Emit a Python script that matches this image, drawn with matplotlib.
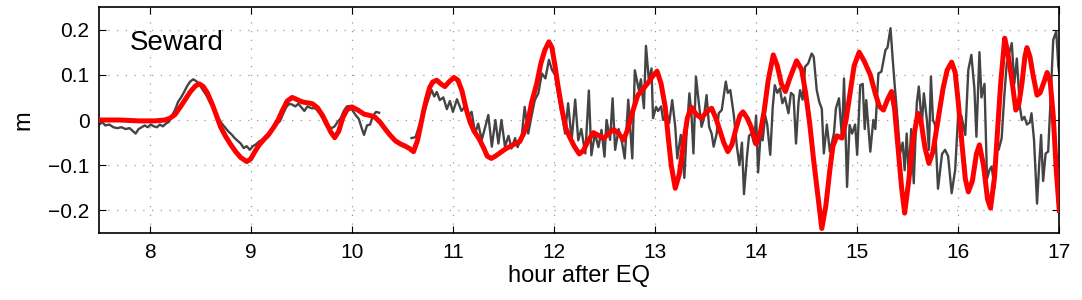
import numpy as np
import matplotlib
matplotlib.use("Agg")
import matplotlib.pyplot as plt

plt.rcParams['font.family'] = ['Liberation Sans', 'DejaVu Sans']

# Observed tide-gauge record (gray); NaN marks the data gap
obs_t = [7.50, 7.53, 7.56, 7.60, 7.64, 7.68, 7.72, 7.76, 7.80, 7.84, 7.86, 7.89, 7.92, 7.95, 7.98,
         8.01, 8.04, 8.07, 8.10, 8.13, 8.16, 8.19, 8.22, 8.25, 8.28, 8.31, 8.34, 8.37, 8.40, 8.43,
         8.46, 8.49, 8.52, 8.56, 8.60, 8.64, 8.68, 8.71, 8.75, 8.78, 8.81, 8.84, 8.87, 8.90, 8.93,
         8.96, 8.99, 9.02, 9.05, 9.08, 9.11, 9.14, 9.17, 9.20, 9.23, 9.26, 9.29, 9.32, 9.35, 9.38,
         9.41, 9.44, 9.47, 9.50, 9.53, 9.56, 9.60, 9.64, 9.68, 9.71, 9.74, 9.77, 9.80, 9.83, 9.86,
         9.89, 9.92, 9.95, 9.98, 10.01, 10.04, 10.07, 10.10, 10.12, 10.15, 10.18, 10.21, 10.24, 10.27,
         10.43,
         10.59, 10.63, 10.67, 10.71, 10.74, 10.77, 10.79, 10.815, 10.84, 10.87, 10.905, 10.94, 10.97,
         11.00, 11.04, 11.085, 11.12, 11.15, 11.185, 11.22, 11.25, 11.285, 11.32, 11.35, 11.385, 11.42,
         11.45, 11.48, 11.515, 11.55, 11.58, 11.615, 11.64, 11.68, 11.71, 11.745, 11.78, 11.81, 11.845,
         11.88, 11.915, 11.95, 11.98, 12.01, 12.04, 12.08, 12.11, 12.14, 12.175, 12.21, 12.24, 12.27,
         12.31, 12.345, 12.37, 12.405, 12.44, 12.47, 12.50, 12.52, 12.555, 12.58, 12.605, 12.64, 12.675,
         12.70, 12.735, 12.775, 12.80, 12.84, 12.86, 12.89, 12.91, 12.94, 12.965, 12.98, 13.01, 13.03,
         13.06, 13.08, 13.115, 13.14, 13.17, 13.20, 13.22, 13.255, 13.29, 13.31, 13.34, 13.36, 13.38,
         13.405, 13.43, 13.46, 13.48, 13.51, 13.535, 13.56, 13.58, 13.61, 13.63, 13.66, 13.70, 13.72,
         13.745, 13.78, 13.81, 13.835, 13.86, 13.88, 13.91, 13.93, 13.955, 13.98, 14.00, 14.02, 14.045,
         14.065, 14.09, 14.11, 14.14, 14.165, 14.185, 14.21, 14.235, 14.26, 14.285, 14.32, 14.345, 14.37,
         14.395, 14.42, 14.435, 14.46, 14.485, 14.515, 14.55, 14.57, 14.60, 14.625, 14.65, 14.67, 14.70,
         14.73, 14.77, 14.79, 14.82, 14.85, 14.87, 14.90, 14.925, 14.95, 14.98, 15.00, 15.03, 15.055,
         15.075, 15.09, 15.13, 15.16, 15.18, 15.21, 15.24, 15.28, 15.30, 15.33, 15.35, 15.37, 15.40,
         15.425, 15.45, 15.47, 15.49, 15.51, 15.535, 15.56, 15.59, 15.61, 15.64, 15.66, 15.69, 15.71,
         15.73, 15.75, 15.77, 15.80, 15.84, 15.87, 15.90, 15.935, 15.97, 16.00, 16.03, 16.07, 16.10,
         16.13, 16.16, 16.18, 16.21, 16.23, 16.26, 16.285, 16.31, 16.33, 16.36, 16.38, 16.40, 16.43,
         16.455, 16.48, 16.50, 16.53, 16.555, 16.58, 16.61, 16.63, 16.655, 16.68, 16.71, 16.725, 16.75,
         16.78, 16.80, 16.82, 16.84, 16.865, 16.89, 16.915, 16.94, 16.97, 16.99, 17.00]
obs_v = [-0.010, -0.005, -0.012, -0.010, -0.016, -0.018, -0.016, -0.020, -0.018, -0.026, -0.030, -0.020,
         -0.016, -0.012, -0.016, -0.010, -0.014, -0.016, -0.010, -0.014, -0.008, -0.004, 0.010, 0.022,
         0.040, 0.050, 0.062, 0.075, 0.085, 0.090, 0.086, 0.080, 0.068, 0.055, 0.037, 0.022, 0.004,
         -0.007, -0.018, -0.026, -0.032, -0.040, -0.046, -0.052, -0.062, -0.058, -0.066, -0.058, -0.054,
         -0.048, -0.044, -0.040, -0.038, -0.026, -0.016, -0.008, -0.002, 0.014, 0.028, 0.036, 0.034,
         0.030, 0.036, 0.028, 0.020, 0.030, 0.026, 0.026, 0.015, 0.004, -0.010, -0.016, -0.018, -0.014,
         -0.004, 0.004, 0.020, 0.030, 0.031, 0.020, 0.010, 0.002, -0.020, -0.033, -0.012, -0.010, 0.010,
         0.018, 0.016,
         np.nan,
         -0.040, -0.038, -0.010, 0.015, 0.035, 0.055, 0.066, 0.052, 0.062, 0.044, 0.050, 0.024, 0.042,
         0.018, 0.046, 0.020, 0.030, 0.008, 0.018, -0.030, -0.008, -0.044, -0.015, 0.011, -0.059, 0.000,
         -0.052, 0.000, -0.059, -0.035, -0.063, -0.040, -0.060, -0.037, 0.029, -0.030, 0.011, 0.044, 0.059,
         0.103, 0.092, 0.133, 0.111, 0.100, 0.059, 0.011, -0.030, 0.037, -0.044, 0.045, -0.045, -0.020,
         -0.074, 0.065, -0.078, -0.030, -0.060, -0.022, -0.081, 0.000, -0.044, 0.048, -0.066, -0.020, -0.052,
         -0.085, 0.045, -0.085, 0.110, 0.066, 0.090, 0.026, 0.164, 0.085, 0.114, 0.004, 0.029, 0.020,
         0.030, 0.000, 0.015, -0.007, 0.044, -0.015, -0.085, -0.033, -0.128, -0.037, 0.059, 0.015, -0.074,
         0.096, 0.044, -0.015, 0.000, 0.055, -0.015, -0.030, -0.059, -0.030, 0.015, 0.022, 0.085, 0.060,
         0.066, 0.010, -0.059, -0.100, -0.050, -0.164, -0.080, -0.035, -0.030, -0.052, 0.010, -0.116, -0.030,
         -0.045, 0.010, -0.010, -0.077, 0.030, 0.077, 0.060, 0.070, 0.037, 0.050, 0.015, 0.060, 0.055,
         -0.052, 0.040, 0.066, 0.045, 0.118, 0.125, 0.147, 0.140, 0.066, 0.040, 0.025, -0.074, -0.010,
         -0.070, -0.030, 0.026, 0.048, -0.040, 0.092, -0.148, -0.011, -0.030, -0.010, -0.077, 0.077, 0.080,
         -0.020, 0.044, -0.070, 0.000, -0.020, 0.103, 0.107, 0.155, 0.160, 0.203, 0.140, 0.081, 0.000,
         -0.074, -0.050, -0.111, -0.030, -0.120, -0.020, -0.140, 0.037, 0.074, -0.010, 0.059, 0.000, -0.066,
         0.096, 0.000, -0.010, -0.152, -0.075, -0.066, -0.080, -0.162, -0.110, 0.015, 0.010, -0.033, 0.111,
         0.144, 0.070, -0.037, 0.150, 0.050, 0.080, -0.130, -0.110, -0.103, -0.150, -0.055, -0.066, -0.040,
         0.050, 0.125, 0.144, 0.170, 0.080, 0.136, 0.029, 0.000, 0.007, -0.010, -0.005, 0.015, -0.044,
         -0.185, -0.103, -0.033, -0.135, -0.074, -0.070, 0.050, 0.177, 0.196, 0.120, 0.103]

# Model (red)
mod_t = [7.50, 7.70, 7.90, 8.05, 8.15, 8.20, 8.25, 8.30, 8.35, 8.40, 8.45, 8.49, 8.53, 8.57, 8.62,
         8.66, 8.70, 8.75, 8.80, 8.85, 8.90, 8.96, 9.00, 9.04, 9.08, 9.13, 9.18, 9.23, 9.27, 9.31,
         9.36, 9.41, 9.46, 9.51, 9.56, 9.61, 9.66, 9.71, 9.75, 9.79, 9.83, 9.87, 9.91, 9.95, 10.00,
         10.06, 10.12, 10.18, 10.23, 10.28, 10.33, 10.38, 10.43, 10.48, 10.53, 10.57, 10.61, 10.65, 10.68,
         10.71, 10.74, 10.77, 10.80, 10.84, 10.88, 10.92, 10.96, 11.01, 11.05, 11.09, 11.13, 11.17, 11.21,
         11.26, 11.30, 11.34, 11.38, 11.42, 11.47, 11.52, 11.57, 11.62, 11.66, 11.70, 11.74, 11.78, 11.83,
         11.87, 11.91, 11.95, 11.98, 12.01, 12.04, 12.08, 12.12, 12.16, 12.20, 12.25, 12.29, 12.34, 12.39,
         12.44, 12.49, 12.54, 12.59, 12.64, 12.69, 12.73, 12.78, 12.83, 12.88, 12.93, 12.97, 13.02, 13.06,
         13.10, 13.13, 13.16, 13.20, 13.24, 13.28, 13.32, 13.36, 13.41, 13.46, 13.51, 13.56, 13.60, 13.64,
         13.68, 13.72, 13.76, 13.80, 13.84, 13.87, 13.91, 13.95, 14.00, 14.04, 14.08, 14.12, 14.17, 14.21,
         14.25, 14.29, 14.33, 14.40, 14.45, 14.49, 14.53, 14.57, 14.61, 14.65, 14.69, 14.73, 14.76, 14.80,
         14.85, 14.89, 14.93, 14.97, 15.02, 15.07, 15.13, 15.18, 15.22, 15.26, 15.30, 15.34, 15.37, 15.40,
         15.44, 15.47, 15.51, 15.55, 15.60, 15.63, 15.67, 15.71, 15.75, 15.80, 15.85, 15.89, 15.935, 15.97,
         16.00, 16.04, 16.07, 16.10, 16.14, 16.18, 16.21, 16.25, 16.29, 16.32, 16.36, 16.39, 16.42, 16.46,
         16.49, 16.53, 16.57, 16.60, 16.63, 16.66, 16.68, 16.71, 16.74, 16.78, 16.81, 16.85, 16.88, 16.91,
         16.94, 16.97, 17.00]
mod_v = [0.000, 0.000, -0.002, -0.002, 0.000, 0.004, 0.012, 0.028, 0.045, 0.062, 0.075, 0.080, 0.074,
         0.060, 0.034, 0.010, -0.015, -0.036, -0.054, -0.070, -0.083, -0.092, -0.086, -0.070, -0.056,
         -0.043, -0.031, -0.015, 0.000, 0.020, 0.042, 0.050, 0.045, 0.040, 0.038, 0.036, 0.027, 0.010,
         -0.008, -0.026, -0.039, -0.025, 0.005, 0.022, 0.029, 0.022, 0.013, 0.010, 0.006, -0.005, -0.020,
         -0.034, -0.046, -0.053, -0.058, -0.063, -0.070, -0.045, -0.012, 0.020, 0.048, 0.072, 0.084, 0.088,
         0.080, 0.074, 0.084, 0.094, 0.088, 0.064, 0.025, -0.005, -0.025, -0.042, -0.060, -0.080, -0.085,
         -0.080, -0.072, -0.064, -0.058, -0.052, -0.048, -0.030, -0.005, 0.040, 0.081, 0.125, 0.155, 0.173,
         0.160, 0.120, 0.075, 0.022, -0.020, -0.040, -0.058, -0.075, -0.068, -0.045, -0.028, -0.034, -0.041,
         -0.030, -0.021, -0.030, -0.044, -0.020, 0.020, 0.055, 0.068, 0.082, 0.095, 0.108, 0.080, 0.030,
         -0.037, -0.100, -0.151, -0.120, -0.055, 0.005, 0.028, 0.012, 0.004, 0.018, 0.026, 0.005, -0.022,
         -0.050, -0.070, -0.055, -0.020, 0.010, 0.018, 0.005, -0.015, -0.053, -0.030, 0.020, 0.088, 0.144,
         0.120, 0.080, 0.063, 0.090, 0.131, 0.112, 0.060, -0.007, -0.090, -0.165, -0.240, -0.190, -0.110,
         -0.058, -0.035, -0.040, 0.000, 0.060, 0.120, 0.150, 0.130, 0.100, 0.058, 0.030, 0.022, 0.045, 0.063,
         0.025, -0.050, -0.150, -0.206, -0.135, -0.050, 0.015, 0.000, -0.060, -0.096, -0.070, 0.000, 0.070,
         0.110, 0.128, 0.105, 0.040, -0.060, -0.130, -0.159, -0.135, -0.075, -0.055, -0.100, -0.175, -0.195,
         -0.125, -0.020, 0.080, 0.181, 0.150, 0.090, 0.022, 0.035, 0.080, 0.140, 0.160, 0.140, 0.100, 0.055,
         0.060, 0.085, 0.105, 0.085, 0.010, -0.110, -0.200]

x_ticks = [8, 9, 10, 11, 12, 13, 14, 15, 16, 17]
y_ticks = [-0.2, -0.1, 0, 0.1, 0.2]
y_tick_labels = ['\u22120.2', '\u22120.1', '0', '0.1', '0.2']
station = 'Seward'

fig = plt.figure(figsize=(10.82, 3.0), dpi=100)
ax = fig.add_axes([0.0917, 0.2233, 0.8873, 0.7534])

ax.plot(obs_t, obs_v, color='#444444', lw=1.7, zorder=2)
ax.plot(mod_t, mod_v, color='#ff0000', lw=3.6, zorder=3, solid_joinstyle='round')

ax.set_xlim(7.5, 17)
ax.set_ylim(-0.25, 0.25)
ax.set_xticks(x_ticks)
ax.set_yticks(y_ticks)
ax.set_yticklabels(y_tick_labels)
ax.tick_params(direction='in', top=True, right=True, length=5, width=0.8,
               labelsize=15, pad=7)
ax.grid(True, color='#9a9a9a', lw=0.9, linestyle=(0, (1, 6)))
for s in ax.spines.values():
    s.set_linewidth(1.2)

ax.set_xlabel('hour after EQ', fontsize=17, labelpad=2)
ax.set_ylabel('m', fontsize=17, labelpad=10)
ax.text(0.032, 0.81, station, transform=ax.transAxes, fontsize=20, va='baseline', ha='left')

fig.savefig('out.png', dpi=100)
